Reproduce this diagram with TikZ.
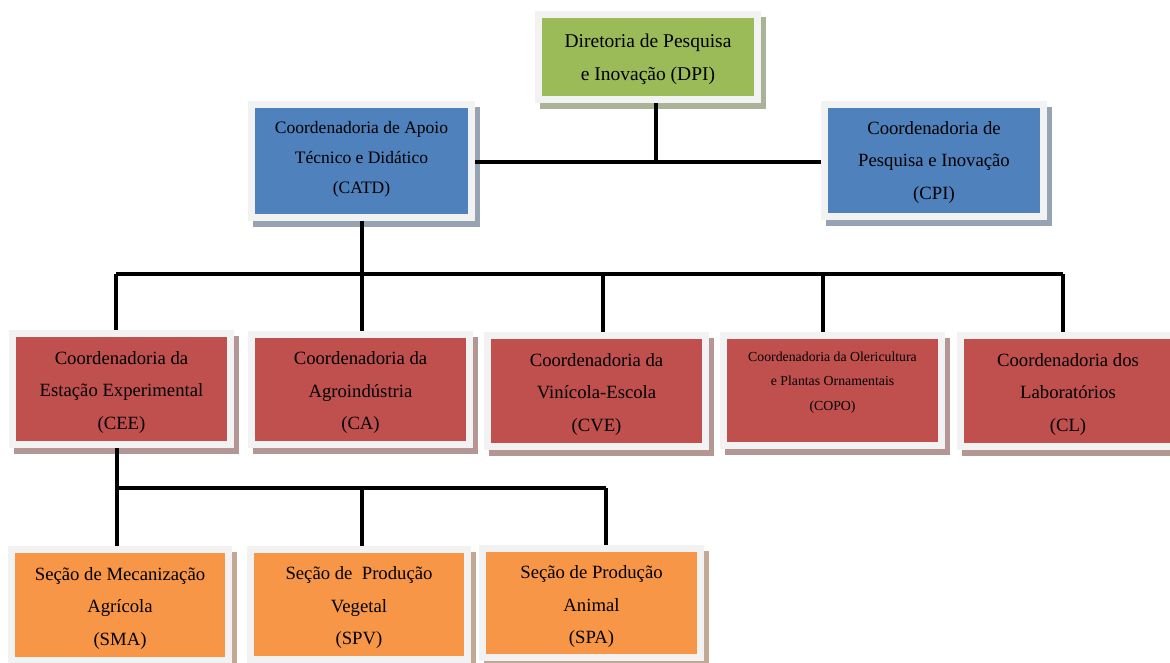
\documentclass[tikz,border=0pt]{standalone}
\usepackage{fontspec}
\setmainfont{Liberation Serif}
\definecolor{greenC}{HTML}{9BBB59}
\definecolor{blueC}{HTML}{4F81BD}
\definecolor{redC}{HTML}{C0504D}
\definecolor{orangeC}{HTML}{F79646}
\definecolor{framegray}{HTML}{F2F2F2}
\tikzset{
  org/.style={rectangle, inner sep=0pt, outer sep=7pt, align=center, text=black,
    font=\fontsize{18.7}{32.5}\selectfont,
    preaction={draw=#1!55!black!50!white, fill=#1!55!black!50!white, line width=14pt,
      transform canvas={xshift=5pt,yshift=-6pt}},
    preaction={draw=framegray, line width=14pt},
    fill=#1},
  lower/.style={text height=#1},
  link/.style={draw=black, line width=3.5pt},
}
\begin{document}
\begin{tikzpicture}[x=1pt,y=-1pt]
\useasboundingbox (0,0) rectangle (1170,663);
% nodes
\node[org=greenC, minimum width=212pt, minimum height=78pt, text depth=-2.5pt,
  font=\fontsize{19.5}{33}\selectfont] (dpi) at (648,57) {Diretoria de Pesquisa\\e Inovação (DPI)};
\node[org=blueC, minimum width=213pt, minimum height=106pt, text depth=8pt,
  font=\fontsize{17.5}{30}\selectfont] (catd) at (361.5,161) {Coordenadoria de Apoio\\Técnico e Didático\\(CATD)};
\node[org=blueC, minimum width=212pt, minimum height=105pt, text depth=0pt] (cpi) at (934,160.5) {Coordenadoria de\\Pesquisa e Inovação\\(CPI)};
\node[org=redC, lower=84pt, minimum width=211pt, minimum height=104pt] (cee) at (121.5,389) {Coordenadoria da\\Estação Experimental\\(CEE)};
\node[org=redC, lower=84pt, minimum width=211pt, minimum height=103pt] (ca) at (360.5,389.5) {Coordenadoria da\\Agroindústria\\(CA)};
\node[org=redC, lower=84pt, minimum width=211pt, minimum height=104pt] (cve) at (596.5,391) {Coordenadoria da\\Vinícola-Escola\\(CVE)};
\node[org=redC, minimum width=211pt, minimum height=103pt, text depth=19pt,
  font=\fontsize{13.8}{24.5}\selectfont] (copo) at (832.5,390.5) {Coordenadoria da Olericultura\\e Plantas Ornamentais\\(COPO)};
\node[org=redC, lower=84pt, minimum width=208pt, minimum height=104pt] (cl) at (1068,391) {Coordenadoria dos\\Laboratórios\\(CL)};
\node[org=orangeC, lower=84pt, minimum width=210pt, minimum height=104pt] (sma) at (120,605) {Seção de Mecanização\\Agrícola\\(SMA)};
\node[org=orangeC, lower=84pt, minimum width=210pt, minimum height=103pt] (spv) at (359,604.5) {Seção de~ Produção\\Vegetal\\(SPV)};
\node[org=orangeC, lower=85pt, minimum width=211pt, minimum height=102pt] (spa) at (591.5,603) {Seção de Produção\\Animal\\(SPA)};
% junction coordinates
\coordinate (j0) at (656,162);
\coordinate (b0) at (362,274);
\coordinate (b1) at (116,274);
\coordinate (b2) at (362,274);
\coordinate (b3) at (603,274);
\coordinate (b4) at (823,274);
\coordinate (b5) at (1063,274);
\coordinate (c0) at (117,488);
\coordinate (c1) at (117,488);
\coordinate (c2) at (362,488);
\coordinate (c3) at (606,488);
% connectors
\draw[link] (dpi.south -| j0) -- (j0);
\draw[link] (catd.east |- j0) -- (cpi.west |- j0);
\draw[link] (catd.south -| b0) -- (b0);
\draw[link] (b1) -- (b5);
\draw[link] (b1) -- (cee.north -| b1);
\draw[link] (b2) -- (ca.north -| b2);
\draw[link] (b3) -- (cve.north -| b3);
\draw[link] (b4) -- (copo.north -| b4);
\draw[link] (b5) -- (cl.north -| b5);
\draw[link] (cee.south -| c0) -- (c0);
\draw[link] (c1) -- (c3);
\draw[link] (c1) -- (sma.north -| c1);
\draw[link] (c2) -- (spv.north -| c2);
\draw[link] (c3) -- (spa.north -| c3);
\end{tikzpicture}
\end{document}
